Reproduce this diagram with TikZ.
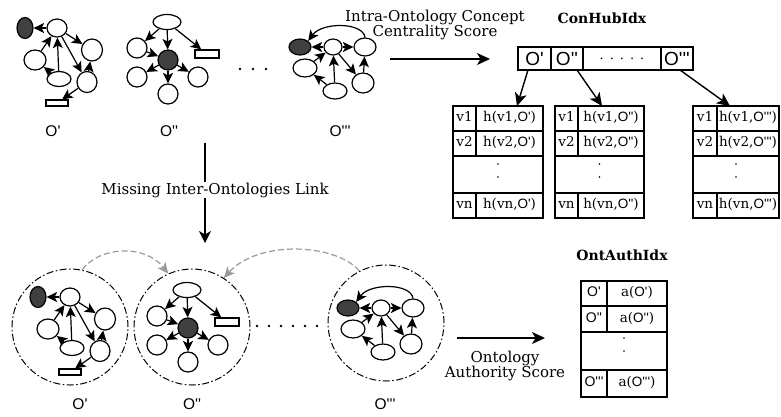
\documentclass[tikz,border=0pt]{standalone}
\usepackage{fontspec}
\setmainfont{DejaVu Serif}
\newfontfamily\osf{Liberation Sans}[Ligatures=TeXOff]
\usetikzlibrary{arrows.meta,shapes.geometric}
\definecolor{darkfill}{HTML}{404040}
\definecolor{garrow}{HTML}{9A9A9A}
\newcommand{\fs}[1]{\fontsize{#1}{#1}\selectfont}
\newcommand{\Oa}{{\osf O'}}
\newcommand{\Ob}{{\osf O''}}
\newcommand{\Oc}{{\osf O'''}}
\tikzset{
  gn/.style={ellipse, draw, line width=1.2pt, fill=white, inner sep=0pt},
  dk/.style={gn, fill=darkfill},
  gr/.style={rectangle, draw, line width=1.2pt, fill=white, inner sep=0pt},
  ga/.style={line width=1.2pt, -{Stealth[length=10.5pt,width=10pt,inset=2.5pt]}},
  ba/.style={line width=1.4pt, -{Stealth[length=13pt,width=12pt,inset=3.5pt]}},
  garr/.style={line width=1.2pt, draw=garrow, dash pattern=on 6pt off 3pt,
     -{Stealth[length=11pt,width=10pt,inset=3pt]}},
  ring/.style={circle, draw, inner sep=0pt, minimum size=116pt, line width=1pt,
     dash pattern=on 7pt off 2.5pt on 1.5pt off 2.5pt},
  tb/.style={line width=1.5pt},
  tx/.style={inner sep=0pt, font=\fs{13.5}, text height=9.5pt, text depth=3pt},
  cell/.style={rectangle, draw, line width=1.5pt, inner sep=0pt, minimum height=23pt, font=\fs{19}},
  olab/.style={inner sep=0pt, font=\osf\fs{15.5}},
  lab/.style={inner sep=1pt, font=\fs{15}, align=center},
  ttl/.style={inner sep=0pt, font=\bfseries\fs{14}}
}
\newcommand{\GraphOne}{%
  \node[dk, minimum width=16pt, minimum height=21pt] (d) at (25,28) {};
  \node[gn, minimum width=20pt, minimum height=18pt] (a) at (57,28) {};
  \node[gn, minimum width=21pt, minimum height=22pt] (b) at (92,50) {};
  \node[gn, minimum width=22pt, minimum height=20pt] (c) at (35,60) {};
  \node[gn, minimum width=24pt, minimum height=15pt] (p) at (59,79) {};
  \node[gn, minimum width=20pt, minimum height=21pt] (e) at (87,82) {};
  \node[gr, minimum width=22pt, minimum height=6pt] (r) at (57,103) {};
  \draw[ga] (a) -- (d);
  \draw[ga] (a) -- (b);
  \draw[ga] (c) -- (a);
  \draw[ga] (p) -- (a);
  \draw[ga] (a) -- (e);
  \draw[ga] (e) -- (b);
  \draw[ga] (p) -- (c);
  \draw[ga] (e) -- (r);
}
\newcommand{\GraphTwo}{%
  \node[gn, minimum width=28pt, minimum height=15pt] (t) at (167,22) {};
  \node[gn, minimum size=20pt] (l) at (137,48) {};
  \node[dk, minimum size=20pt] (m) at (168,60) {};
  \node[gr, minimum width=24pt, minimum height=8pt] (r) at (207,54) {};
  \node[gn, minimum size=20pt] (bl) at (137,77) {};
  \node[gn, minimum size=20pt] (bo) at (168,94) {};
  \node[gn, minimum size=20pt] (br) at (198,77) {};
  \draw[ga] (t) -- (l);
  \draw[ga] (t) -- (m);
  \draw[ga] (t) -- (r);
  \draw[ga] (l) -- (m);
  \draw[ga] (m) -- (bl);
  \draw[ga] (m) -- (bo);
  \draw[ga] (m) -- (br);
}
\newcommand{\GraphThree}{%
  \node[dk, minimum width=22pt, minimum height=16pt] (d) at (300,47) {};
  \node[gn, minimum width=18pt, minimum height=16pt] (a) at (333,47) {};
  \node[gn, minimum width=22pt, minimum height=18pt] (b) at (365,47) {};
  \node[gn, minimum width=24pt, minimum height=18pt] (c) at (305,68) {};
  \node[gn, minimum width=24pt, minimum height=16pt] (p) at (335,91) {};
  \node[gn, minimum width=22pt, minimum height=20pt] (e) at (363,83) {};
  \draw[ga] (a) -- (d);
  \draw[ga] (a) -- (b);
  \draw[ga] (c) -- (a);
  \draw[ga] (p) -- (a);
  \draw[ga] (a) -- (e);
  \draw[ga] (e) -- (b);
  \draw[ga] (p) -- (c);
  \draw[ga] (b.north) .. controls (363,22) and (322,22) .. (d.north east);
}
\newcommand{\HubTab}[5]{%
  \draw[tb] (#1,106) rectangle (#3,218);
  \foreach \yy in {131,156,193} {\draw[tb] (#1,\yy) -- (#3,\yy);}
  \draw[tb] (#2,106) -- (#2,156) (#2,193) -- (#2,218);
  \node[tx] (#5-v1) at ({(#1+#2)/2},118.5) {v1};
  \node[tx] (#5-h1) at ({(#2+#3)/2},118.5) {h(v1,#4)};
  \node[tx] (#5-v2) at ({(#1+#2)/2},143.5) {v2};
  \node[tx] (#5-h2) at ({(#2+#3)/2},143.5) {h(v2,#4)};
  \node[tx] (#5-vn) at ({(#1+#2)/2},205.5) {vn};
  \node[tx] (#5-hn) at ({(#2+#3)/2},205.5) {h(vn,#4)};
  \fill ({(#1+#3)/2},164) circle (0.9) ({(#1+#3)/2},177) circle (0.9);
}
\begin{document}
\begin{tikzpicture}[x=1pt,y=-1pt]
\useasboundingbox (0,0) rectangle (781,416);

% ---- top graphs ----
\begin{scope}[name prefix=ta-]\GraphOne\end{scope}
\begin{scope}[name prefix=tb-]\GraphTwo\end{scope}
\begin{scope}[name prefix=tc-]\GraphThree\end{scope}
\fill (240,69) circle (1.3) (253,69) circle (1.3) (266,69) circle (1.3);
\node[olab] (l1) at (53,131) {O'};
\node[olab] (l2) at (169,131) {O''};
\node[olab] (l3) at (340,131) {O'''};

% ---- intra-ontology arrow ----
\coordinate (ia) at (390,59);
\coordinate (ib) at (490,59);
\draw[ba] (ia) -- (ib);
\node[lab] (il) at (435,25) {Intra-Ontology Concept\\Centrality Score};

% ---- ConHubIdx ----
\node[ttl] (cht) at (602,18) {ConHubIdx};
\node[cell, minimum width=33pt] (h1) at (534.5,58.5) {\Oa};
\node[cell, minimum width=32pt] (h2) at (567,58.5) {\Ob};
\node[cell, minimum width=78pt, font=\fs{13}] (h3) at (622,58.5) {.\hspace{6pt}.\hspace{6pt}.\hspace{6pt}.\hspace{6pt}.};
\node[cell, minimum width=32pt] (h4) at (677,58.5) {\Oc};
\HubTab{453}{476}{543}{\Oa}{ta}
\HubTab{555}{578}{644}{\Ob}{tb}
\HubTab{693}{717}{779}{\Oc}{tc}
\coordinate (s1) at (528,70);  \coordinate (e1) at (517,106);
\coordinate (s2) at (577,70);  \coordinate (e2) at (602,106);
\coordinate (s3) at (680,70);  \coordinate (e3) at (730,106);
\draw[ba] (s1) -- (e1);
\draw[ba] (s2) -- (e2);
\draw[ba] (s3) -- (e3);

% ---- missing link arrow ----
\coordinate (va) at (205,143);
\coordinate (vb) at (205,243);
\draw[line width=1.3pt, -{Stealth[length=12pt,width=12pt,inset=3.5pt]}] (va) -- (vb);
\node[lab, fill=white] (ml) at (215,190) {Missing Inter-Ontologies Link};

% ---- bottom circles ----
\node[ring] (c1) at (70,327) {};
\node[ring] (c2) at (192,327) {};
\node[ring] (c3) at (386,323) {};
\begin{scope}[shift={(13,269)}, name prefix=ba-]\GraphOne\end{scope}
\begin{scope}[shift={(20,268)}, name prefix=bb-]\GraphTwo\end{scope}
\begin{scope}[shift={(48,261)}, name prefix=bc-]\GraphThree\end{scope}
\foreach \xx in {257,269,281,293,305,317} {\fill (\xx,326) circle (1.3);}
\draw[garr] (c1.78) .. controls (100,246) and (145,244) .. (c2.114);
\draw[garr] (c3.117) .. controls (335,243) and (258,240) .. (c2.57);
\node[olab] (m1) at (80,404) {O'};
\node[olab] (m2) at (192,404) {O''};
\node[olab] (m3) at (385,404) {O'''};

% ---- authority arrow ----
\coordinate (aa) at (457,338);
\coordinate (ab) at (545,338);
\draw[ba] (aa) -- (ab);
\node[lab] (al) at (505,366) {Ontology\\Authority Score};

% ---- OntAuthIdx ----
\node[ttl] (oat) at (622,255) {OntAuthIdx};
\draw[tb] (581,281) rectangle (667,397);
\foreach \yy in {306,332,370} {\draw[tb] (581,\yy) -- (667,\yy);}
\draw[tb] (607,281) -- (607,332) (607,370) -- (607,397);
\node[tx, font=\osf\fs{14}] (o1) at (594,293.5) {O'};
\node[tx] (a1) at (637,293.5) {a(\Oa)};
\node[tx, font=\osf\fs{14}] (o2) at (594,319) {O''};
\node[tx] (a2) at (637,319) {a(\Ob)};
\node[tx, font=\osf\fs{14}] (o3) at (594,383.5) {O'''};
\node[tx] (a3) at (637,383.5) {a(\Oc)};
\fill (624,338) circle (0.9) (624,351) circle (0.9);
\end{tikzpicture}
\end{document}
